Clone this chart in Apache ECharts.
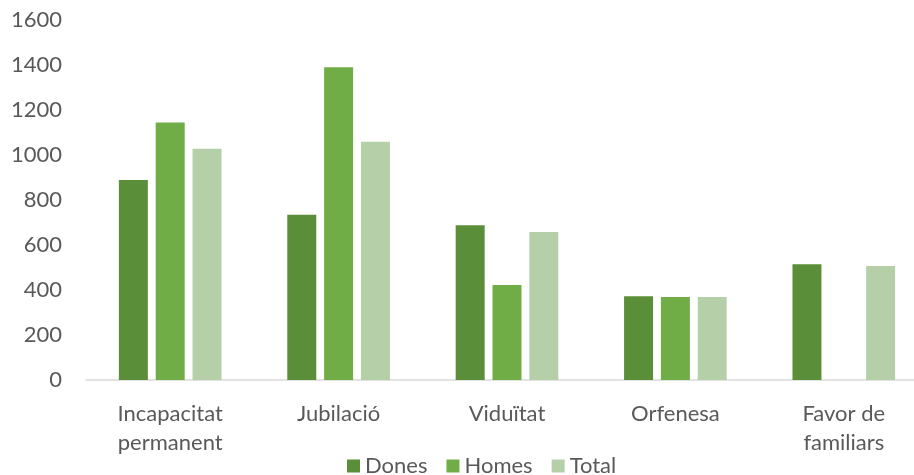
<!DOCTYPE html>
<html>
<head>
<meta charset="utf-8">
<script src="https://cdn.jsdelivr.net/npm/echarts@6/dist/echarts.min.js"></script>
<style>
  html, body { margin: 0; padding: 0; background: #fff; overflow: hidden; }
  #chart { width: 914px; height: 475px; }
</style>
</head>
<body>
<div id="chart"></div>
<script>
const categories = ['Incapacitat\npermanent', 'Jubilació', 'Viduïtat', 'Orfenesa', 'Favor de\nfamiliars']
const dones = [889, 735, 688, 372, 514]
const homes = [1144, 1390, 422, 369, null]
const total = [1028, 1059, 658, 369, 507]
const seriesNames = ['Dones', 'Homes', 'Total']
const seriesColors = ['#5b8e39', '#70ad47', '#b5d0a8']

const mychart = echarts.init(document.getElementById('chart'))

const font = 'Lato'
const values = [dones, homes, total]

mychart.setOption({
    animation: false,
    color: seriesColors,
    // plot runs a little past the right edge, like the source image
    grid: { left: 86, width: 842, top: 20, bottom: 95, containLabel: false, outerBoundsMode: 'none' },
    legend: {
        left: 347,
        top: 455,
        padding: 0,
        itemWidth: 13,
        itemHeight: 13,
        itemGap: 19,
        icon: 'rect',
        selectedMode: false,
        textStyle: { fontFamily: font, fontSize: 22, color: '#595959' },
        data: seriesNames
    },
    xAxis: {
        type: 'category',
        data: categories,
        axisLine: { lineStyle: { color: '#d9d9d9', width: 1.5 } },
        axisTick: { show: false },
        axisLabel: {
            margin: 19,
            fontFamily: font,
            fontSize: 22,
            lineHeight: 29,
            color: '#595959'
        }
    },
    yAxis: {
        type: 'value',
        min: 0,
        max: 1600,
        interval: 200,
        splitLine: { show: false },
        axisLine: { show: false },
        axisTick: { show: false },
        axisLabel: {
            margin: 24,
            fontFamily: font,
            fontSize: 22,
            color: '#595959',
            formatter: v => String(v)
        }
    },
    series: seriesNames.map((name, i) => ({
        name,
        type: 'bar',
        data: values[i],
        barWidth: 29,
        barGap: '27%',
        itemStyle: { color: seriesColors[i] }
    }))
})
</script>
</body>
</html>
